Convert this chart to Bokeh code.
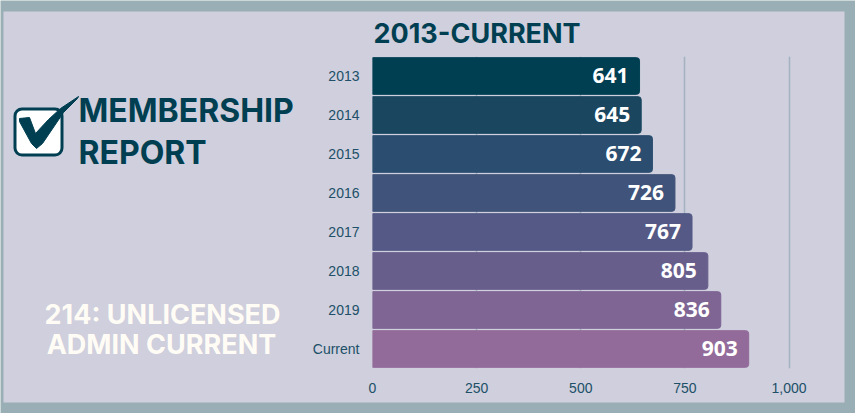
from bokeh.plotting import figure
from bokeh.models import ColumnDataSource, FactorRange, Range1d, FixedTicker, NumeralTickFormatter
from bokeh.core.properties import value
from bokeh.embed import file_html
from bokeh.resources import INLINE

categories = ["2013", "2014", "2015", "2016", "2017", "2018", "2019", "Current"]
members = [641, 645, 672, 726, 767, 805, 836, 903]
bar_colors = ["#003f52", "#1a4660", "#2b4e70", "#40537a", "#545985", "#685e8c", "#7e6594", "#936b9a"]
x_ticks = [0, 250, 500, 750, 1000]
title_text = "2013-CURRENT"
heading_lines = ["MEMBERSHIP", "REPORT"]
note_lines = ["214: UNLICENSED", "ADMIN CURRENT"]

DARK = "#003f52"
PANEL = "#cfcfdd"
EDGE = "#99afb5"
CREAM = "#fffcf5"
W, H = 855, 413
FL, FB, FR, FT = 372, 368, 799, 56

# Backdrop: a frame the size of the page, its data units being page pixels.
bg = figure(width=W, height=H, output_backend="svg", toolbar_location=None,
            x_range=Range1d(0, W), y_range=Range1d(H, 0), x_axis_location=None, y_axis_location=None,
            min_border=0, border_fill_color=EDGE, background_fill_color=EDGE, outline_line_color=None)
bg.grid.visible = False
bg.quad(left=[3], right=[844], top=[11], bottom=[402], fill_color=PANEL, line_color=None)


def label(x, y, s, size, color=DARK, align="left", font="Inter"):
    bg.text(x=[x], y=[y], text=[s], text_color=color, text_font=value(font), text_font_size=size,
            text_font_style="bold", text_align=align, text_baseline="middle")


label(373, 33, title_text, "27px")
label(78, 110, heading_lines[0], "32px")
label(78, 152, heading_lines[1], "32px")
label(162, 314, note_lines[0], "27px", color=CREAM, align="center")
label(161, 344, note_lines[1], "27px", color=CREAM, align="center")

bg.quad(left=[14.5], right=[61.5], top=[108.5], bottom=[154.5], fill_color="#ffffff",
        line_color=DARK, line_width=3, border_radius=7)
bg.patch(x=[19, 29, 35, 48, 60, 78, 77, 63, 42, 36, 31, 19],
         y=[118, 117, 133, 119, 108, 96, 98, 112, 143, 148, 143, 121],
         fill_color=DARK, line_color=DARK, line_width=1)

# Chart on top, with everything around its bars left see-through.
source = ColumnDataSource(dict(cat=categories, val=members, col=bar_colors,
                               lab=[str(v) for v in members]))
p = figure(width=W, height=H, output_backend="svg", toolbar_location=None,
           y_range=FactorRange(factors=categories[::-1], range_padding=0),
           x_range=Range1d(0, 1025), min_border_left=FL, min_border_right=W - FR,
           min_border_top=FT, min_border_bottom=H - FB,
           border_fill_color=None, background_fill_color=None,
           outline_line_color=None, margin=(-H, 0, 0, 0))

p.hbar(y="cat", right="val", left=0, height=0.94, source=source, fill_color="col",
       line_color="col", line_width=1,
       border_radius={"top_left": 0, "bottom_left": 0, "top_right": 3, "bottom_right": 3})
p.text(x="val", y="cat", text="lab", source=source, x_offset=-11, y_offset=-1, text_align="right",
       text_baseline="middle", text_color="#ffffff", text_font_size="21px",
       text_font_style="bold", text_font=value("Open Sans"))

p.xgrid.ticker = FixedTicker(ticks=x_ticks)
p.xgrid.grid_line_color = "#a3b1c0"
p.xgrid.grid_line_width = 1.5
p.ygrid.grid_line_color = None

p.xaxis.ticker = FixedTicker(ticks=x_ticks)
p.xaxis.formatter = NumeralTickFormatter(format="0,0")
for ax in (p.xaxis[0], p.yaxis[0]):
    ax.axis_line_color = None
    ax.major_tick_line_color = None
    ax.minor_tick_line_color = None
    ax.major_label_text_color = "#205068"
    ax.major_label_text_font = "Liberation Sans"
    ax.major_label_text_font_size = "14px"
p.xaxis.major_label_standoff = 8
p.yaxis.major_label_standoff = 7

open("out.html", "w").write(file_html((bg, p), INLINE))
